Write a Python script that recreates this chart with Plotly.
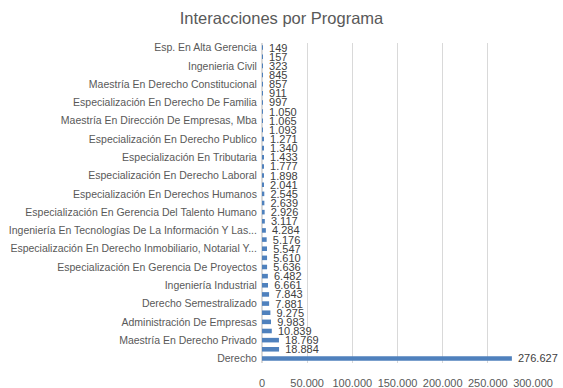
import plotly.graph_objects as go

programas = [
    "Derecho",
    "Contaduría Pública",
    "Maestría En Derecho Privado",
    "Psicología",
    "Administración De Empresas",
    "Ingeniería De Sistemas",
    "Derecho Semestralizado",
    "Economía",
    "Ingeniería Industrial",
    "Especialización En Derecho Penal",
    "Especialización En Gerencia De Proyectos",
    "Especialización En Derecho Administrativo",
    "Especialización En Derecho Inmobiliario, Notarial Y...",
    "Maestría En Derecho Penal",
    "Ingeniería En Tecnologías De La Información Y Las...",
    "Especialización En Derecho Comercial",
    "Especialización En Gerencia Del Talento Humano",
    "Especialización En Gerencia Financiera",
    "Especialización En Derechos Humanos",
    "Especialización En Derecho Procesal",
    "Especialización En Derecho Laboral",
    "Maestría En Derecho Administrativo",
    "Especialización En Tributaria",
    "Especialización En Contratación Estatal",
    "Especialización En Derecho Publico",
    "Especialización En Derecho Constitucional",
    "Maestría En Dirección De Empresas, Mba",
    "Maestría En Derecho Laboral",
    "Especialización En Derecho De Familia",
    "Especialización En Revisoría Fiscal",
    "Maestría En Derecho Constitucional",
    "Ingeniería Ambiental",
    "Ingenieria Civil",
    "Especialización En Derecho Tributario",
    "Esp. En Alta Gerencia",
]

interacciones = [
    276627, 18884, 18769, 10839, 9983, 9275, 7881, 7843, 6661, 6482,
    5636, 5610, 5547, 5176, 4284, 3117, 2926, 2639, 2545, 2041,
    1898, 1777, 1433, 1340, 1271, 1093, 1065, 1050, 997, 911,
    857, 845, 323, 157, 149,
]

# Only every other category label is shown (as in the reference)
etiquetas_visibles = programas[::2]

x_ticks = [0, 50000, 100000, 150000, 200000, 250000, 300000]

FONT = "Liberation Sans"

fig = go.Figure(
    go.Bar(
        x=interacciones,
        y=programas,
        orientation="h",
        marker=dict(color="#4F81BD", line=dict(width=0)),
        width=0.5,
        text=interacciones,
        texttemplate="\u00a0\u00a0%{x:,}",
        textposition="outside",
        constraintext="none",
        cliponaxis=False,
        textfont=dict(family=FONT, size=11, color="#404040"),
        hoverinfo="x+y",
    )
)

fig.update_layout(
    width=563,
    height=388,
    margin=dict(l=262, r=30, t=43, b=25),
    paper_bgcolor="white",
    plot_bgcolor="white",
    separators=",.",
    showlegend=False,
    title=dict(
        text="Interacciones por Programa",
        x=0.5,
        xref="container",
        xanchor="center",
        y=1 - 18 / 388,
        yref="container",
        yanchor="middle",
        font=dict(family=FONT, size=16.5, color="#595959"),
    ),
    xaxis=dict(
        range=[0, 300000],
        tickvals=x_ticks,
        tickformat=",",
        showgrid=True,
        gridcolor="#D9D9D9",
        gridwidth=1,
        zeroline=True,
        zerolinecolor="#D9D9D9",
        showline=False,
        ticks="outside",
        ticklen=10,
        tickcolor="rgba(0,0,0,0)",
        tickfont=dict(family=FONT, size=11, color="#595959"),
        automargin=False,
        fixedrange=True,
    ),
    yaxis=dict(
        type="category",
        categoryorder="array",
        categoryarray=programas,
        tickvals=etiquetas_visibles,
        ticktext=etiquetas_visibles,
        showgrid=False,
        showline=False,
        ticks="outside",
        ticklen=2,
        tickcolor="rgba(0,0,0,0)",
        tickfont=dict(family=FONT, size=10.5, color="#595959"),
        automargin=False,
        fixedrange=True,
    ),
)

fig.write_html(
    "out.html",
    config={"displayModeBar": False},
    post_script="document.body.style.margin='0';document.body.style.padding='0';",
)
